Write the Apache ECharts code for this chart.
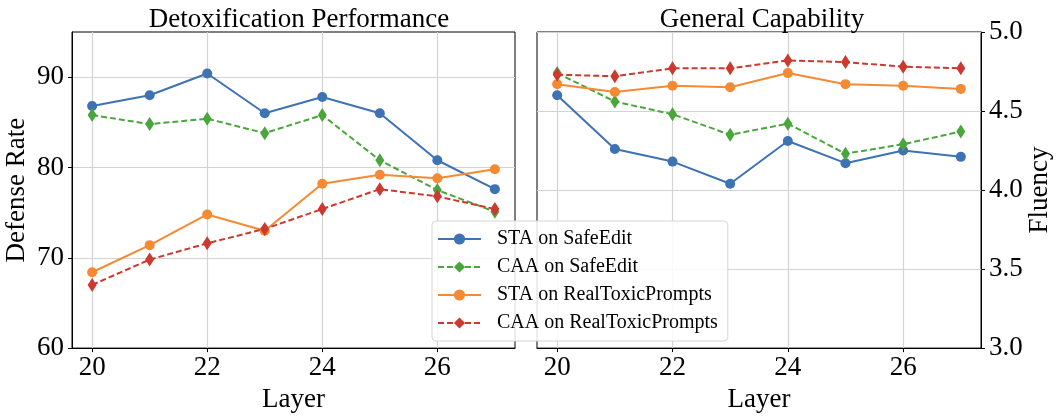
<!DOCTYPE html>
<html>
<head>
<meta charset="utf-8">
<script src="https://cdn.jsdelivr.net/npm/echarts@6/dist/echarts.min.js"></script>
<style>
html, body { margin: 0; padding: 0; background: #fff; }
#chart { width: 1057px; height: 418px; }
</style>
</head>
<body>
<div id="chart"></div>
<script>
// data
var layers = [20, 21, 22, 23, 24, 25, 26, 27];
var seriesNames = ['STA on SafeEdit', 'CAA on SafeEdit', 'STA on RealToxicPrompts', 'CAA on RealToxicPrompts'];

// Detoxification Performance (Defense Rate)
var defStaSafe = [86.8, 88.0, 90.4, 86.0, 87.8, 86.0, 80.8, 77.6];
var defCaaSafe = [85.8, 84.8, 85.4, 83.8, 85.8, 80.8, 77.5, 75.1];
var defStaRtp = [68.4, 71.4, 74.8, 73.0, 78.2, 79.2, 78.8, 79.8];
var defCaaRtp = [67.0, 69.8, 71.6, 73.2, 75.4, 77.6, 76.8, 75.4];

// General Capability (Fluency)
var fluStaSafe = [4.60, 4.26, 4.18, 4.04, 4.31, 4.17, 4.25, 4.21];
var fluCaaSafe = [4.74, 4.56, 4.48, 4.35, 4.42, 4.23, 4.29, 4.37];
var fluStaRtp = [4.67, 4.62, 4.66, 4.65, 4.74, 4.67, 4.66, 4.64];
var fluCaaRtp = [4.73, 4.72, 4.77, 4.77, 4.82, 4.81, 4.78, 4.77];

var xTicks = [20, 22, 24, 26];
var defTicks = [60, 70, 80, 90];

var colors = ['#3d72b3', '#4aa63c', '#f58a33', '#cc392f'];
var lineTypes = ['solid', [6, 3], 'solid', [6, 3]];
var symbols = ['circle', 'diamond', 'circle', 'diamond'];
var symbolSizes = [10, [9, 14], 10, [9, 14]];

var font = 'Liberation Serif';

function pairs(vals) {
	var out = [];
	for (var i = 0; i < layers.length; i++) {
		out.push([layers[i], vals[i]]);
	}
	return out;
}

function makeSeries(idx, vals, gridIdx) {
	return {
		name: seriesNames[idx],
		type: 'line',
		xAxisIndex: gridIdx,
		yAxisIndex: gridIdx,
		data: pairs(vals),
		symbol: symbols[idx],
		symbolSize: symbolSizes[idx],
		showAllSymbol: true,
		itemStyle: { color: colors[idx] },
		lineStyle: { color: colors[idx], width: 2, type: lineTypes[idx] },
		emphasis: { disabled: true },
		z: 3
	};
}

function xAxisOpt(gridIdx) {
	return {
		type: 'value',
		gridIndex: gridIdx,
		min: 19.65,
		max: 27.35,
		name: 'Layer',
		nameLocation: 'middle',
		nameGap: 36,
		nameTextStyle: { fontFamily: font, fontSize: 27, color: '#000' },
		axisLine: { show: true, onZero: false, lineStyle: { color: '#000', width: 1 } },
		axisTick: { show: true, inside: false, length: 4, customValues: xTicks, lineStyle: { color: '#000' } },
		axisLabel: { customValues: xTicks, fontFamily: font, fontSize: 27, color: '#000', margin: 6 },
		splitLine: { show: true, lineStyle: { color: '#d3d3d3', width: 1.2 } }
	};
}

var defSeries = [defStaSafe, defCaaSafe, defStaRtp, defCaaRtp];
var fluSeries = [fluStaSafe, fluCaaSafe, fluStaRtp, fluCaaRtp];
var allSeries = [];
for (var s = 0; s < 4; s++) {
	allSeries.push(makeSeries(s, defSeries[s], 0));
}
for (var s2 = 0; s2 < 4; s2++) {
	allSeries.push(makeSeries(s2, fluSeries[s2], 1));
}

var chart = echarts.init(document.getElementById('chart'), null, { renderer: 'canvas' });
chart.setOption({
	animation: false,
	backgroundColor: '#fff',
	title: [
		{
			text: 'Detoxification Performance',
			left: 294,
			textAlign: 'center',
			top: 1,
			textStyle: { fontFamily: font, fontSize: 27, fontWeight: 'normal', color: '#000' }
		},
		{
			text: 'General Capability',
			left: 757,
			textAlign: 'center',
			top: 1,
			textStyle: { fontFamily: font, fontSize: 27, fontWeight: 'normal', color: '#000' }
		}
	],
	grid: [
		{ left: 72, top: 32, width: 443, height: 321, show: true, borderColor: '#000', borderWidth: 1, backgroundColor: 'transparent' },
		{ left: 537, top: 32, width: 444, height: 321, show: true, borderColor: '#000', borderWidth: 1, backgroundColor: 'transparent' }
	],
	xAxis: [xAxisOpt(0), xAxisOpt(1)],
	yAxis: [
		{
			type: 'value',
			gridIndex: 0,
			min: 60,
			max: 95,
			interval: 10,
			name: 'Defense Rate',
			nameLocation: 'middle',
			nameGap: 42,
			nameTextStyle: { fontFamily: font, fontSize: 27, color: '#000' },
			axisLine: { show: true, lineStyle: { color: '#000', width: 1 } },
			axisTick: { show: true, length: 4, customValues: defTicks, lineStyle: { color: '#000' } },
			axisLabel: { customValues: defTicks, fontFamily: font, fontSize: 27, color: '#000', margin: 8 },
			splitLine: { show: true, lineStyle: { color: '#d3d3d3', width: 1.2 } }
		},
		{
			type: 'value',
			gridIndex: 1,
			position: 'right',
			min: 3,
			max: 5,
			interval: 0.5,
			name: 'Fluency',
			nameLocation: 'middle',
			nameGap: 40,
			nameRotate: 90,
			nameTextStyle: { fontFamily: font, fontSize: 27, color: '#000' },
			axisLine: { show: true, lineStyle: { color: '#000', width: 1 } },
			axisTick: { show: true, length: 4, lineStyle: { color: '#000' } },
			axisLabel: {
				fontFamily: font, fontSize: 27, color: '#000', margin: 8,
				formatter: function (v) { return v.toFixed(1); }
			},
			splitLine: { show: true, lineStyle: { color: '#d3d3d3', width: 1.2 } }
		}
	],
	legend: {
		data: seriesNames,
		orient: 'vertical',
		left: 432,
		top: 221,
		padding: [8, 10, 8, 5],
		itemWidth: 43,
		itemHeight: 14,
		itemGap: 8,
		backgroundColor: 'rgba(255,255,255,0.85)',
		borderColor: '#d6d6d6',
		borderWidth: 1,
		borderRadius: 4,
		selectedMode: false,
		textStyle: { fontFamily: font, fontSize: 20, color: '#000', lineHeight: 20, padding: [0, 0, 0, 11] },
		z: 10
	},
	series: allSeries
});
</script>
</body>
</html>
